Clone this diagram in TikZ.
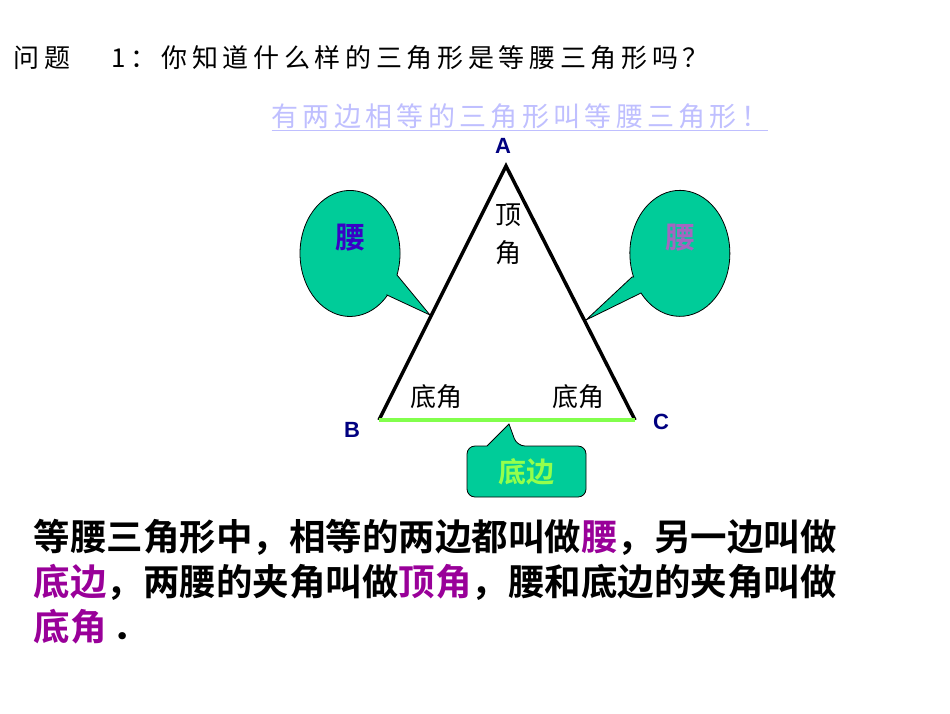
\documentclass[tikz,border=0pt]{standalone}
\usepackage{fontspec}
\setmainfont{Noto Sans CJK SC}
\newfontfamily\cjkb{Noto Sans CJK SC Bold}
\newfontfamily\lat{Liberation Sans}
\usetikzlibrary{shapes.geometric}
\definecolor{callg}{HTML}{00CC99}
\definecolor{navy}{HTML}{000080}
\definecolor{purp}{HTML}{990099}
\tikzset{x=1pt,y=-1pt,
  call/.style={fill=callg,draw=black,line width=0.8pt},
  vlab/.style={font=\lat\bfseries\fontsize{22}{22}\selectfont,text=navy},
  ang/.style={font=\fontsize{26}{26}\selectfont},
  para/.style={anchor=west,font=\cjkb\fontsize{36.5}{36.5}\selectfont}}
\begin{document}
\begin{tikzpicture}
\useasboundingbox[fill=white] (0,0) rectangle (950,713);
\node[anchor=west,font=\fontsize{26}{26}\selectfont\addfontfeature{LetterSpace=18}] (title) at (10,58) {问题};
\node[anchor=west,font=\fontsize{26}{26}\selectfont\addfontfeature{LetterSpace=18}] (title2) at (108,58) {1：你知道什么样的三角形是等腰三角形吗？};
\node[anchor=west,font=\fontsize{27}{27}\selectfont\addfontfeature{LetterSpace=16},text=blue!25!white] (sub) at (268,117) {\underline{有两边相等的三角形叫等腰三角形！}};
\coordinate (A) at (506,166);
\coordinate (B) at (379,420);
\coordinate (C) at (635,420);
\draw[line width=3.5pt,line join=miter] (B) -- (A) -- (C);
\draw[line width=3.5pt,green!60!lime!70!white] (B) -- (C);
% left callout
\draw[call] (387,295) -- (430,315) -- (397,275) arc[start angle=20,end angle=-318,x radius=50,y radius=63] -- cycle;
% right callout
\draw[call] (632,277) -- (586,320) -- (641,293) arc[start angle=141,end angle=-202,x radius=50,y radius=63] -- cycle;
% bottom callout
\draw[call,rounded corners=8pt] (487,446) -- (467,446) -- (467,497) -- (586,497) -- (586,446) -- (517,446) [sharp corners] -- (509,424) -- cycle;
\node[font=\cjkb\fontsize{30}{30}\selectfont,text=blue!70!purple] (y1) at (350,238) {腰};
\node[font=\cjkb\fontsize{30}{30}\selectfont,text=blue!45!purple!60!white] (y2) at (680,238) {腰};
\node[font=\cjkb\fontsize{28}{28}\selectfont,text=green!60!yellow!70!white] (db) at (526,472) {底边};
\node[ang] (t1) at (508,215) {顶};
\node[ang] (t2) at (508,253) {角};
\node[ang] (b1) at (436,397) {底角};
\node[ang] (b2) at (578,397) {底角};
\node[vlab] (la) at (503,146) {A};
\node[vlab] (lb) at (352,430) {B};
\node[vlab] (lc) at (661,422) {C};
\node[para] (p1) at (30,537) {等腰三角形中，相等的两边都叫做\textcolor{purp}{腰}，另一边叫做};
\node[para] (p2) at (30,582) {\textcolor{purp}{底边}，两腰的夹角叫做\textcolor{purp}{顶角}，腰和底边的夹角叫做};
\node[para] (p3) at (30,627) {\textcolor{purp}{底角}\,．};
\end{tikzpicture}
\end{document}
